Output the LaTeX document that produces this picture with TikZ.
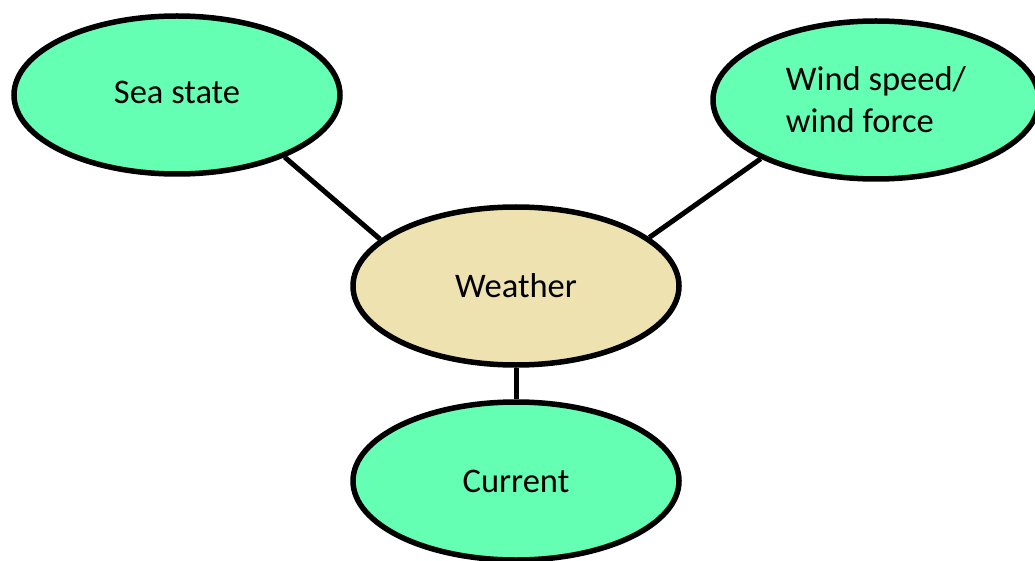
\documentclass[tikz,border=0pt]{standalone}
\usepackage{fontspec}
\setmainfont{Carlito}
\usetikzlibrary{shapes.geometric}
\definecolor{seagreen}{RGB}{100,255,178}
\definecolor{sandtan}{RGB}{238,226,176}
\tikzset{
    bubble/.style={ellipse, draw, line width=5.5pt, fill=seagreen, inner sep=0pt,
        minimum width=326pt, minimum height=158pt, font=\fontsize{34.5}{42}\selectfont},
    link/.style={line width=5pt}
}
\begin{document}
\begin{tikzpicture}[x=1pt, y=-1pt]
        \useasboundingbox (0, 0) rectangle (1035, 561);
        \node[bubble] (sea) at (177, 95) {\raisebox{5pt}{Sea state}};
        \node[bubble, align=left] (wind) at (876, 100) {Wind speed/\\wind force};
        \node[bubble, fill=sandtan] (weather) at (516, 286) {Weather};
        \node[bubble] (current) at (516, 481) {Current};
        \draw[link] (sea.-30) -- (weather.161);
        \draw[link] (wind.-153) -- (weather.20);
        \draw[link] (weather.south) -- (current.north);
    \end{tikzpicture}
\end{document}
